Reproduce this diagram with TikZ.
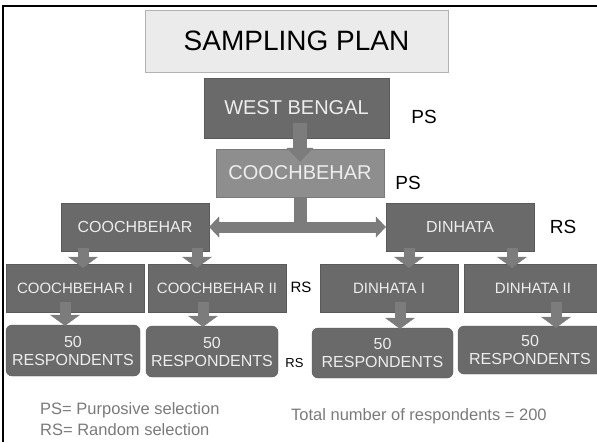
\documentclass[tikz,border=0pt]{standalone}
\usepackage{fontspec}
\setmainfont{Liberation Sans}
\usetikzlibrary{arrows.meta}
\definecolor{boxgray}{HTML}{6A6A6A}
\definecolor{lightbox}{HTML}{8E8E8E}
\definecolor{arrowgray}{HTML}{7C7C7C}
\definecolor{boxtext}{HTML}{EDEDED}
\definecolor{notegray}{HTML}{7A7A7A}

\begin{document}
\begin{tikzpicture}[x=1pt, y=-1pt,
	box/.style={fill=boxgray, draw=boxgray!85!black, text=boxtext, inner sep=0pt},
	rbox/.style={box, rounded corners=6pt, align=center, font=\fontsize{16}{16}\selectfont},
	blockarrow/.style={draw=arrowgray, line width=11pt, -{Triangle[width=30pt, length=11pt, line width=0.4pt]}},
	note/.style={text=notegray, inner sep=0pt, font=\fontsize{16.5}{20}\selectfont}]
						\clip (0,0) rectangle (597,442);
						\draw[line width=2.5pt] (3,442) -- (3,6) -- (597,6);
						\node[fill=black!8, draw=black!30, minimum width=303pt, minimum height=62pt, font=\fontsize{28}{28}\selectfont] (title) at (296.5,41) {SAMPLING PLAN};
						\node[box, minimum width=185pt, minimum height=60pt, font=\fontsize{20}{20}\selectfont] (wb) at (296.5,108) {WEST BENGAL};
						\node[box, fill=lightbox, draw=lightbox!85!black, minimum width=168pt, minimum height=48pt, font=\fontsize{20}{20}\selectfont] (dist) at (300,173) {COOCHBEHAR};
						\node[box, minimum width=148pt, minimum height=48pt, font=\fontsize{16}{16}\selectfont] (cb) at (135,227) {COOCHBEHAR};
						\node[box, minimum width=148pt, minimum height=48pt, font=\fontsize{16}{16}\selectfont] (dh) at (460,227) {DINHATA};
						\node[box, minimum width=138pt, minimum height=48pt, font=\fontsize{15}{15}\selectfont] (cbi) at (75,288) {COOCHBEHAR I};
						\node[box, minimum width=138pt, minimum height=48pt, font=\fontsize{15}{15}\selectfont] (cbii) at (217,288) {COOCHBEHAR II};
						\node[box, minimum width=138pt, minimum height=48pt, font=\fontsize{15}{15}\selectfont] (dhi) at (389,288) {DINHATA I};
						\node[box, minimum width=138pt, minimum height=48pt, font=\fontsize{15}{15}\selectfont] (dhii) at (533,288) {DINHATA II};
						\node[rbox, minimum width=134pt, minimum height=51pt] (resa) at (73,350.5) {50\\[2pt]RESPONDENTS};
						\node[rbox, minimum width=132pt, minimum height=51pt] (resb) at (212,351.5) {50\\[2pt]RESPONDENTS};
						\node[rbox, minimum width=141pt, minimum height=50pt] (resc) at (382.5,353) {50\\[2pt]RESPONDENTS};
						\node[rbox, minimum width=144pt, minimum height=48pt] (resd) at (530,350) {50\\[2pt]RESPONDENTS};
						\draw[blockarrow, line width=14pt, -{Triangle[width=27pt, length=14pt, line width=0.4pt]}] ([yshift=15pt]wb.south -| dist.north) -- ([yshift=-13pt]dist.north);
						\draw[draw=arrowgray, line width=13pt] (dist.south) -- (dist.south |- cb.east);
						\draw[draw=arrowgray, line width=11pt, {Triangle[width=21pt, length=10pt, line width=0.4pt]}-{Triangle[width=21pt, length=10pt, line width=0.4pt]}] (cb.east) -- (dh.west);
						\draw[blockarrow] ([xshift=-52pt, yshift=3pt]cb.south) -- ([xshift=8pt, yshift=-4pt]cbi.north);
						\draw[blockarrow] ([xshift=62pt, yshift=3pt]cb.south) -- ([xshift=-20pt, yshift=-4pt]cbii.north);
						\draw[blockarrow] ([xshift=-51pt, yshift=3pt]dh.south) -- ([xshift=20pt, yshift=-4pt]dhi.north);
						\draw[blockarrow] ([xshift=52pt, yshift=3pt]dh.south) -- ([xshift=-21pt, yshift=-4pt]dhii.north);
						\draw[blockarrow] ([xshift=-10pt, yshift=10pt]cbi.south) -- ([xshift=-8pt, yshift=-1pt]resa.north);
						\draw[blockarrow] ([xshift=-14pt, yshift=10pt]cbii.south) -- ([xshift=-9pt, yshift=-1pt]resb.north);
						\draw[blockarrow] ([xshift=11pt, yshift=10pt]dhi.south) -- ([xshift=17.5pt, yshift=-1pt]resc.north);
						\draw[blockarrow] ([xshift=23pt, yshift=10pt]dhii.south) -- ([xshift=26pt, yshift=-2pt]resd.north);
						\node[font=\fontsize{19}{19}\selectfont] (pswb) at (424,117) {PS};
						\node[font=\fontsize{19}{19}\selectfont] (psdist) at (408,183) {PS};
						\node[font=\fontsize{19}{19}\selectfont] (rsblock) at (563,227) {RS};
						\node[font=\fontsize{15}{15}\selectfont, inner sep=0pt] (rsvill) at (301,287) {RS};
						\node[font=\fontsize{13}{13}\selectfont, inner sep=0pt] (rsresp) at (294.5,363) {RS};
						\node[note, anchor=west] (keyps) at (40,410) {PS= Purposive selection};
						\node[note, anchor=west] (keyrs) at (40,430) {RS= Random selection};
						\node[note, anchor=west] (total) at (291,416) {Total number of respondents = 200};
					\end{tikzpicture}
\end{document}
